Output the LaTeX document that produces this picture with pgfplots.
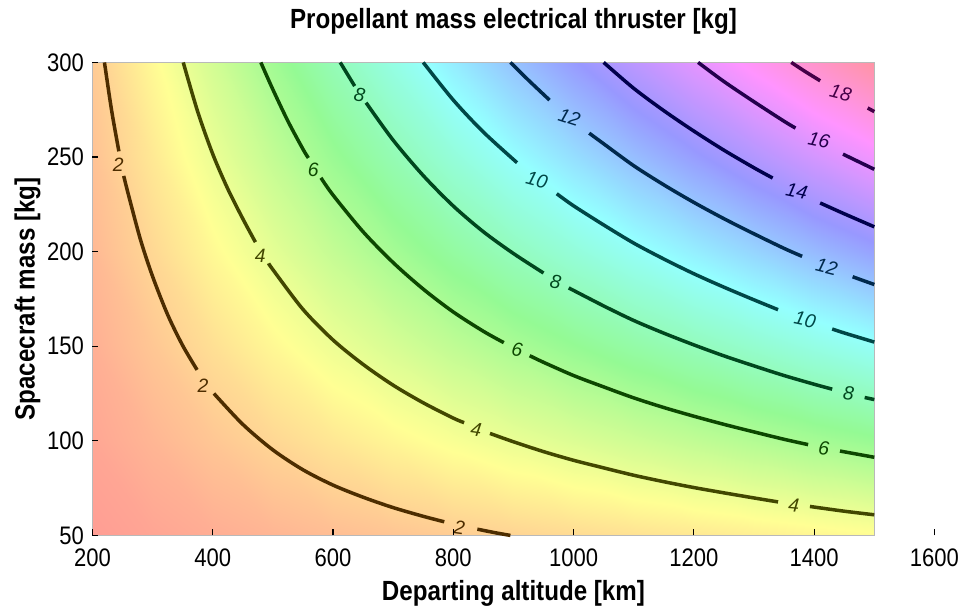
\documentclass[border=0pt]{standalone}
\usepackage{fontspec}
\setmainfont{Liberation Sans}[FakeStretch=0.87]
\newfontfamily\clabfont{Liberation Sans}
\usepackage{pgfplots}
\pgfplotsset{compat=1.18}

% contour line colours (dark versions of the colormap)
\definecolor{c2}{RGB}{77,45,0}
\definecolor{c4}{RGB}{66,71,0}
\definecolor{c6}{RGB}{12,71,0}
\definecolor{c8}{RGB}{0,71,30}
\definecolor{c10}{RGB}{0,71,71}
\definecolor{c12}{RGB}{0,41,77}
\definecolor{c14}{RGB}{0,0,77}
\definecolor{c16}{RGB}{36,0,77}
\definecolor{c18}{RGB}{69,0,71}

\pgfplotsset{cline/.style={line width=1.45pt, smooth}}
\tikzset{clab/.style={font=\clabfont\itshape\fontsize{8}{9}\selectfont, inner sep=0pt}}

\begin{document}
\begin{tikzpicture}
\begin{axis}[
    name=ax,
    scale only axis, width=348.9pt, height=196pt,
    xmin=200, xmax=1600, ymin=50, ymax=300,
    xtick={200,400,...,1600}, ytick={50,100,...,300},
    tick pos=left, tick align=inside, major tick length=2.5pt,
    tick style={black, line width=0.5pt},
    axis line style={draw=none},
    axis on top, clip=false,
    colormap={hsvlight}{rgb255(0cm)=(255,148,148) rgb255(1cm)=(255,255,148)
        rgb255(2cm)=(148,250,148) rgb255(3cm)=(148,255,255)
        rgb255(4cm)=(152,152,255) rgb255(5cm)=(255,148,255)
        rgb255(6cm)=(255,148,148)},
    point meta min=0, point meta max=20.2,
    /pgf/number format/assume math mode=true,
    /pgf/number format/1000 sep={},
    tick label style={font=\fontsize{10.5}{12}\selectfont},
    xticklabel style={yshift=-2.2pt},
    title={Propellant mass electrical thruster [kg]},
    title style={font=\fontsize{11.5}{13}\selectfont\bfseries,
        at={(0.5,1)}, anchor=base, yshift=8.2pt},
    xlabel={Departing altitude [km]},
    ylabel={Spacecraft mass [kg]},
    every axis x label/.style={at={(axis description cs:0.5,0)}, anchor=base,
        yshift=-27pt, font=\fontsize{11.5}{13}\selectfont\bfseries},
    every axis y label/.style={at={([xshift=-24pt]axis description cs:0,0.5)},
        rotate=90, anchor=base, font=\fontsize{11.5}{13}\selectfont\bfseries},
]

% background field
\addplot[surf, shader=interp, mesh/cols=14, point meta=\thisrow{z}] table {
x y z
200 50 0.285
300 50 0.535
400 50 0.795
500 50 1.05
600 50 1.305
700 50 1.545
800 50 1.785
900 50 2.01
1000 50 2.23
1100 50 2.445
1200 50 2.655
1300 50 2.865
1400 50 3.08
1500 50 3.285
200 100 0.57
300 100 1.07
400 100 1.59
500 100 2.10
600 100 2.61
700 100 3.09
800 100 3.57
900 100 4.02
1000 100 4.46
1100 100 4.89
1200 100 5.31
1300 100 5.73
1400 100 6.16
1500 100 6.57
200 150 0.855
300 150 1.605
400 150 2.385
500 150 3.15
600 150 3.915
700 150 4.635
800 150 5.355
900 150 6.03
1000 150 6.69
1100 150 7.335
1200 150 7.965
1300 150 8.595
1400 150 9.24
1500 150 9.855
200 200 1.14
300 200 2.14
400 200 3.18
500 200 4.20
600 200 5.22
700 200 6.18
800 200 7.14
900 200 8.04
1000 200 8.92
1100 200 9.78
1200 200 10.62
1300 200 11.46
1400 200 12.32
1500 200 13.14
200 250 1.425
300 250 2.675
400 250 3.975
500 250 5.25
600 250 6.525
700 250 7.725
800 250 8.925
900 250 10.05
1000 250 11.15
1100 250 12.225
1200 250 13.275
1300 250 14.325
1400 250 15.40
1500 250 16.425
200 300 1.71
300 300 3.21
400 300 4.77
500 300 6.30
600 300 7.83
700 300 9.27
800 300 10.71
900 300 12.06
1000 300 13.38
1100 300 14.67
1200 300 15.93
1300 300 17.19
1400 300 18.48
1500 300 19.71
};

% frame of the data region
\addplot[gray!55, line width=0.6pt] coordinates {(200,50)(1500,50)(1500,300)(200,300)(200,50)};

% level 2
\addplot[cline, c2] coordinates {(220,300)(232,274.4)(244,253)};
\addplot[cline, c2] coordinates {(252,240)(260,229.9)(280,206.2)(300,186.9)(325,166.7)(350,150.4)(374,137.5)};
\addplot[cline, c2] coordinates {(402,125)(450,108.7)(500,95.2)(550,84.7)(600,76.6)(650,70.2)(700,64.7)(750,60.1)(785,57.2)};
\addplot[cline, c2] coordinates {(840,53.3)(870,51.4)(895,50)};
% level 4
\addplot[cline, c4] coordinates {(351,300)(375,274)(400,251.6)(425,233.2)(450,217.4)(471,205)};
\addplot[cline, c4] coordinates {(493,193.8)(500,190.5)(550,169.5)(600,153.3)(650,140.4)(700,129.4)(750,120.1)(800,112)(818,109.6)};
\addplot[cline, c4] coordinates {(861,103.9)(900,99.5)(950,94.3)(1000,89.7)(1050,85.7)(1100,81.8)(1150,78.4)(1200,75.3)(1250,72.5)(1300,69.8)(1340,67.7)};
\addplot[cline, c4] coordinates {(1393,65.3)(1450,62.8)(1500,60.9)};
% level 6
\addplot[cline, c6] coordinates {(480,300)(500,285.7)(525,269)(550,254.2)(559,249.5)};
\addplot[cline, c6] coordinates {(580,239)(600,229.9)(650,210.5)(700,194.2)(750,180.2)(800,168.1)(850,157.9)(884,151.9)};
\addplot[cline, c6] coordinates {(927,145)(950,141.5)(1000,134.5)(1050,128.5)(1100,122.7)(1150,117.6)(1200,113)(1250,108.7)(1300,104.7)(1350,100.8)(1390,98)};
\addplot[cline, c6] coordinates {(1443,94.6)(1500,91.3)};
% level 8
\addplot[cline, c8] coordinates {(612,300)(636,287.5)};
\addplot[cline, c8] coordinates {(655,278.7)(700,258.9)(750,240.2)(800,224.1)(850,210.5)(900,199)(950,188.7)};
\addplot[cline, c8] coordinates {(992,180.8)(1050,171.3)(1100,163.6)(1150,156.9)(1200,150.7)(1250,144.9)(1300,139.6)(1350,134.5)(1400,129.9)(1430,127.3)};
\addplot[cline, c8] coordinates {(1484,122.9)(1500,121.8)};
% level 10
\addplot[cline, c10] coordinates {(750,300)(800,280.1)(850,263.2)(906,247)};
\addplot[cline, c10] coordinates {(972,230.6)(1000,224.2)(1050,214.1)(1100,204.5)(1150,196.1)(1200,188.3)(1250,181.2)(1300,174.5)(1340,169.3)};
\addplot[cline, c10] coordinates {(1430,159.1)(1450,157)(1500,152.2)};
% level 12
\addplot[cline, c12] coordinates {(895,300)(925,290.6)(960,280.1)};
\addplot[cline, c12] coordinates {(1026,262.6)(1050,257)(1100,245.4)(1150,235.3)(1200,226)(1250,217.4)(1300,209.4)(1350,201.7)(1380,197.5)};
\addplot[cline, c12] coordinates {(1464,186.7)(1500,182.6)};
% level 14
\addplot[cline, c14] coordinates {(1050,300)(1100,286.3)(1150,274.5)(1200,263.7)(1250,253.6)(1300,244.3)(1331,238.9)};
\addplot[cline, c14] coordinates {(1410,225.7)(1450,220)(1500,213.1)};
% level 16
\addplot[cline, c16] coordinates {(1207,300)(1250,289.9)(1300,279.2)(1350,268.9)(1369,265.3)};
\addplot[cline, c16] coordinates {(1448,251.5)(1500,243.5)};
% level 18
\addplot[cline, c18] coordinates {(1362,300)(1385,295.2)(1410,290.3)};
\addplot[cline, c18] coordinates {(1489,275.9)(1500,274)};

% inline contour labels
\node[clab, text=c2] at (axis cs:243,246) {2};
\node[clab, text=c2] at (axis cs:384,129) {2};
\node[clab, text=c2, rotate=-8] at (axis cs:810,54) {2};
\node[clab, text=c4] at (axis cs:479,198) {4};
\node[clab, text=c4, rotate=-8] at (axis cs:838,106) {4};
\node[clab, text=c4, rotate=-5] at (axis cs:1366,66) {4};
\node[clab, text=c6] at (axis cs:567,243) {6};
\node[clab, text=c6, rotate=-8] at (axis cs:906,148) {6};
\node[clab, text=c6, rotate=-5] at (axis cs:1416,96) {6};
\node[clab, text=c8, rotate=-10] at (axis cs:644,283) {8};
\node[clab, text=c8, rotate=-10] at (axis cs:970,184) {8};
\node[clab, text=c8, rotate=-5] at (axis cs:1457,125) {8};
\node[clab, text=c10, rotate=-15] at (axis cs:939,238) {10};
\node[clab, text=c10, rotate=-12] at (axis cs:1385,164) {10};
\node[clab, text=c12, rotate=-18] at (axis cs:993,271) {12};
\node[clab, text=c12, rotate=-14] at (axis cs:1421,192) {12};
\node[clab, text=c14, rotate=-12] at (axis cs:1371,232) {14};
\node[clab, text=c16, rotate=-12] at (axis cs:1408,259) {16};
\node[clab, text=c18, rotate=-14] at (axis cs:1444,284) {18};
\end{axis}
% fixed page extent matching the reference proportions
\path ([xshift=-38.3pt,yshift=-32.1pt]ax.south west) rectangle ([xshift=11.1pt,yshift=21.4pt]ax.north east);
\end{tikzpicture}
\end{document}
